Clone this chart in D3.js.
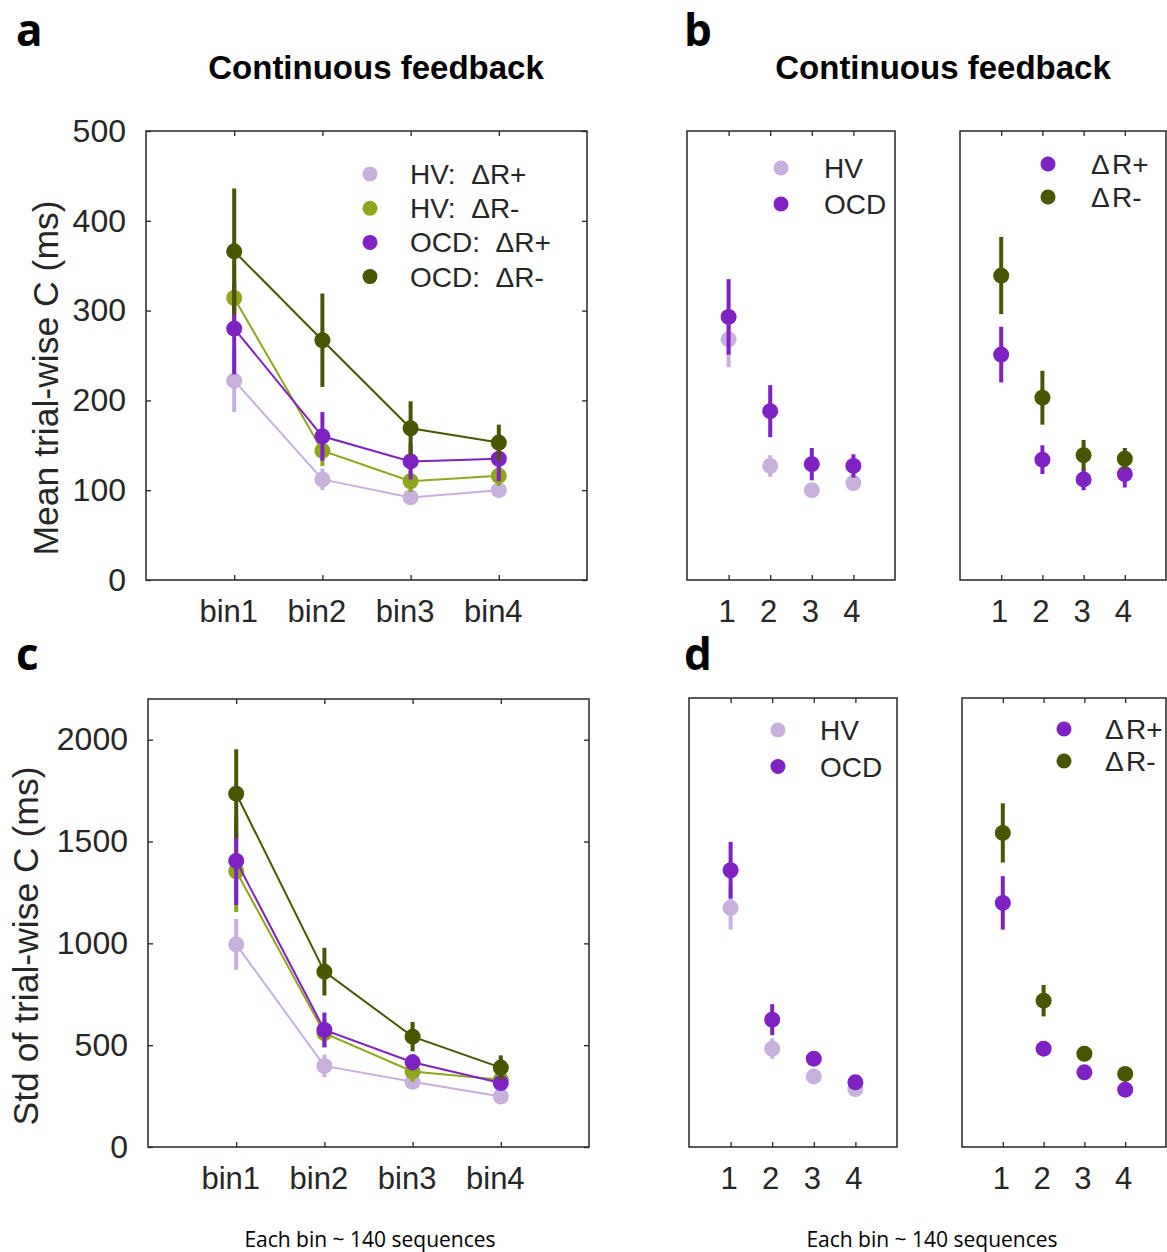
<!DOCTYPE html>
<html>
<head>
<meta charset="utf-8">
<script src="https://cdn.jsdelivr.net/npm/d3@7"></script>
<style>
  body { margin: 0; background: #fff; }
  svg text { font-family: "Liberation Sans", Arial, sans-serif; fill: #262626; }
</style>
</head>
<body>
<svg id="fig" width="1167" height="1252"></svg>
<script>
// tick labels
var bins = ["bin1", "bin2", "bin3", "bin4"];
var binNums = ["1", "2", "3", "4"];
var meanTicks = [0, 100, 200, 300, 400, 500];
var stdTicks = [0, 500, 1000, 1500, 2000];

// panel a : mean trial-wise C, per group x feedback sign
var aHVpos = [222, 112, 92, 100],  aHVposErr = [35, 12, 6, 6];
var aHVneg = [314, 144, 110, 116], aHVnegErr = [40, 17, 12, 11];
var aOCDpos = [280, 160, 132, 135], aOCDposErr = [51, 27, 20, 25];
var aOCDneg = [366, 267, 169, 153], aOCDnegErr = [70, 52, 30, 20];

// panel b : collapsed
var bHV = [268, 127, 100, 108],  bHVErr = [31, 12, 6, 7];
var bOCD = [293, 188, 129, 127], bOCDErr = [42, 29, 18, 13];
var bPos = [251, 134, 112, 118], bPosErr = [31, 16, 12, 15];
var bNeg = [339, 203, 139, 135], bNegErr = [43, 30, 17, 12];

// panel c : std of trial-wise C
var cHVpos = [995, 398, 320, 248],  cHVposErr = [125, 55, 25, 20];
var cHVneg = [1354, 559, 371, 330], cHVnegErr = [200, 70, 50, 30];
var cOCDpos = [1405, 575, 416, 314], cOCDposErr = [217, 85, 40, 30];
var cOCDneg = [1735, 861, 542, 390], cOCDnegErr = [218, 117, 72, 60];

// panel d : collapsed
var dHV = [1172, 482, 346, 284],  dHVErr = [107, 50, 25, 20];
var dOCD = [1356, 624, 433, 317], dOCDErr = [139, 76, 30, 25];
var dPos = [1196, 482, 366, 281], dPosErr = [131, 35, 20, 15];
var dNeg = [1539, 717, 457, 358], dNegErr = [145, 77, 35, 28];

var col = {hv: "#c8b0dc", hvNeg: "#8fa61c", ocd: "#7f22c4", dark: "#4a5500"};

var svg = d3.select("#fig");

// draws one boxed axes; opts: x0,x1,y0,y1,ymax,yticks,xlabels,series,lines,legend,labelShift
function panel(o) {
  var x = d3.scaleLinear().domain([0, 5]).range([o.x0, o.x1]);
  var y = d3.scaleLinear().domain([0, o.ymax]).range([o.y1, o.y0]);
  var g = svg.append("g");

  var bottom = d3.axisBottom(x).tickValues([1, 2, 3, 4])
    .tickFormat(function(d, i) { return o.xlabels[i]; })
    .tickSizeInner(-5).tickSizeOuter(0).tickPadding(20);
  var ax = g.append("g").attr("transform", "translate(0," + o.y1 + ")").call(bottom);
  ax.selectAll("text").attr("font-size", 31).attr("dx", o.labelShift)
    .style("font-family", "Liberation Sans, Arial, sans-serif").attr("fill", "#262626");
  g.append("g").attr("transform", "translate(0," + o.y0 + ")")
    .call(d3.axisTop(x).tickValues([1, 2, 3, 4]).tickFormat("").tickSizeInner(-5).tickSizeOuter(0));

  if (o.yticks) {
    var ly = g.append("g").attr("transform", "translate(" + o.x0 + ",0)")
      .call(d3.axisLeft(y).tickValues(o.yticks).tickFormat(d3.format("d"))
        .tickSizeInner(-5).tickSizeOuter(0).tickPadding(20));
    ly.selectAll("text").attr("font-size", 32)
      .style("font-family", "Liberation Sans, Arial, sans-serif").attr("fill", "#262626");
    g.append("g").attr("transform", "translate(" + o.x1 + ",0)")
      .call(d3.axisRight(y).tickValues(o.yticks).tickFormat("").tickSizeInner(-5).tickSizeOuter(0));
  }
  g.selectAll(".domain").remove();
  g.selectAll(".tick line").attr("stroke", "#262626").attr("stroke-width", 1.3);

  g.append("rect").attr("x", o.x0).attr("y", o.y0)
    .attr("width", o.x1 - o.x0).attr("height", o.y1 - o.y0)
    .attr("fill", "none").attr("stroke", "#262626").attr("stroke-width", 1.5);

  o.series.forEach(function(s) {
    var pts = s.v.map(function(v, i) { return {i: i + 1, v: v, e: s.e[i]}; });
    if (o.lines) {
      g.append("path").datum(pts)
        .attr("d", d3.line().x(function(d) { return x(d.i); }).y(function(d) { return y(d.v); }))
        .attr("fill", "none").attr("stroke", s.c).attr("stroke-width", 2);
    }
    g.selectAll(null).data(pts).enter().append("line")
      .attr("x1", function(d) { return x(d.i); }).attr("x2", function(d) { return x(d.i); })
      .attr("y1", function(d) { return y(d.v - d.e); }).attr("y2", function(d) { return y(d.v + d.e); })
      .attr("stroke", s.c).attr("stroke-width", 4);
    g.selectAll(null).data(pts).enter().append("circle")
      .attr("cx", function(d) { return x(d.i); }).attr("cy", function(d) { return y(d.v); })
      .attr("r", 8).attr("fill", s.c);
  });

  // legend
  var L = o.legend;
  L.items.forEach(function(it, k) {
    var cy = L.y + k * L.dy;
    g.append("circle").attr("cx", L.mx).attr("cy", cy).attr("r", 7.5).attr("fill", it.c);
    g.append("text").attr("x", L.tx).attr("y", cy + 10).attr("font-size", 28)
      .style("white-space", "pre").attr("xml:space", "preserve").text(it.t);
  });
}

var fourA = [
  {v: aHVpos, e: aHVposErr, c: col.hv}, {v: aHVneg, e: aHVnegErr, c: col.hvNeg},
  {v: aOCDpos, e: aOCDposErr, c: col.ocd}, {v: aOCDneg, e: aOCDnegErr, c: col.dark}];
var fourC = [
  {v: cHVpos, e: cHVposErr, c: col.hv}, {v: cHVneg, e: cHVnegErr, c: col.hvNeg},
  {v: cOCDpos, e: cOCDposErr, c: col.ocd}, {v: cOCDneg, e: cOCDnegErr, c: col.dark}];
var legFour = [
  {t: "HV:  \u0394R+", c: col.hv}, {t: "HV:  \u0394R-", c: col.hvNeg},
  {t: "OCD:  \u0394R+", c: col.ocd}, {t: "OCD:  \u0394R-", c: col.dark}];
var legGroup = [{t: "HV", c: col.hv}, {t: "OCD", c: col.ocd}];
var legSign = [{t: "\u0394\u200AR+", c: col.ocd}, {t: "\u0394\u200AR-", c: col.dark}];

panel({x0: 146, x1: 587, y0: 131, y1: 580, ymax: 500, yticks: meanTicks, xlabels: bins,
  labelShift: -6, lines: true, series: fourA,
  legend: {mx: 370, tx: 410, y: 174, dy: 34.2, items: legFour}});
panel({x0: 687, x1: 895, y0: 131, y1: 580, ymax: 500, xlabels: binNums, labelShift: -2,
  series: [{v: bHV, e: bHVErr, c: col.hv}, {v: bOCD, e: bOCDErr, c: col.ocd}],
  legend: {mx: 781, tx: 824, y: 168, dy: 36, items: legGroup}});
panel({x0: 960, x1: 1166, y0: 131, y1: 580, ymax: 500, xlabels: binNums, labelShift: -2,
  series: [{v: bPos, e: bPosErr, c: col.ocd}, {v: bNeg, e: bNegErr, c: col.dark}],
  legend: {mx: 1048, tx: 1091, y: 164, dy: 33, items: legSign}});

panel({x0: 148, x1: 589, y0: 699, y1: 1147, ymax: 2200, yticks: stdTicks, xlabels: bins,
  labelShift: -6, lines: true, series: fourC,
  legend: {mx: 0, tx: 0, y: 0, dy: 0, items: []}});
panel({x0: 689, x1: 897, y0: 698, y1: 1147, ymax: 2200, xlabels: binNums, labelShift: -2,
  series: [{v: dHV, e: dHVErr, c: col.hv}, {v: dOCD, e: dOCDErr, c: col.ocd}],
  legend: {mx: 778, tx: 820, y: 730, dy: 36.5, items: legGroup}});
panel({x0: 962, x1: 1166, y0: 698, y1: 1147, ymax: 2200, xlabels: binNums, labelShift: -2,
  series: [{v: dPos, e: dPosErr, c: col.ocd}, {v: dNeg, e: dNegErr, c: col.dark}],
  legend: {mx: 1064, tx: 1105, y: 729, dy: 32, items: legSign}});

// titles, letters, axis labels
svg.append("text").attr("x", 376).attr("y", 79).attr("text-anchor", "middle")
  .attr("font-size", 33).attr("font-weight", "bold").style("fill", "#000").text("Continuous feedback");
svg.append("text").attr("x", 943).attr("y", 79).attr("text-anchor", "middle")
  .attr("font-size", 33).attr("font-weight", "bold").style("fill", "#000").text("Continuous feedback");

[["a", 16, 46], ["b", 684, 46], ["c", 16, 670], ["d", 684, 670]].forEach(function(l) {
  svg.append("text").attr("x", l[1]).attr("y", l[2]).attr("font-size", 44).attr("font-weight", "bold")
    .style("font-family", "Open Sans, sans-serif").style("fill", "#000").text(l[0]);
});

svg.append("text").attr("transform", "translate(58,378) rotate(-90)").attr("text-anchor", "middle")
  .attr("font-size", 35.5).text("Mean trial-wise C (ms)");
svg.append("text").attr("transform", "translate(38,946) rotate(-90)").attr("text-anchor", "middle")
  .attr("font-size", 35.5).text("Std of trial-wise C (ms)");

[370, 932].forEach(function(cx) {
  svg.append("text").attr("x", cx).attr("y", 1247).attr("text-anchor", "middle")
    .attr("font-size", 21).style("font-family", "Open Sans, sans-serif").style("fill", "#000")
    .text("Each bin ~ 140 sequences");
});
</script>
</body>
</html>
